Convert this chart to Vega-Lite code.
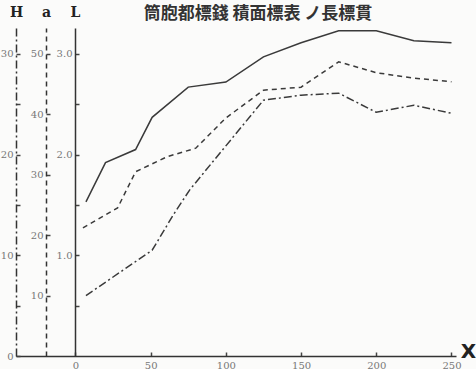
{
  "$schema": "https://vega.github.io/schema/vega-lite/v6.json",
  "width": 440,
  "height": 328,
  "autosize": "none",
  "padding": {"left": 16, "top": 28, "right": 20, "bottom": 13},
  "background": "#fbfbfa",
  "title": {
    "text": "筒胞都標錢 積面標表 ノ長標貫",
    "font": "Noto Sans CJK JP",
    "fontSize": 17,
    "fontWeight": "bold",
    "color": "#333",
    "anchor": "middle",
    "dx": 22,
    "offset": -18
  },
  "datasets": {
    "Ld": [
      {"X": 7, "L": 1.53}, {"X": 20, "L": 1.92}, {"X": 40, "L": 2.05}, {"X": 51, "L": 2.37},
      {"X": 75, "L": 2.67}, {"X": 100, "L": 2.72}, {"X": 125, "L": 2.97}, {"X": 150, "L": 3.11},
      {"X": 175, "L": 3.23}, {"X": 200, "L": 3.23}, {"X": 225, "L": 3.13}, {"X": 250, "L": 3.11}
    ],
    "ad": [
      {"X": 5, "a": 21.2}, {"X": 28, "a": 24.5}, {"X": 40, "a": 30.5}, {"X": 61, "a": 33.0},
      {"X": 80, "a": 34.4}, {"X": 100, "a": 39.4}, {"X": 125, "a": 44.0}, {"X": 150, "a": 44.5},
      {"X": 175, "a": 48.7}, {"X": 200, "a": 46.9}, {"X": 225, "a": 46.0}, {"X": 250, "a": 45.4}
    ],
    "Hd": [
      {"X": 7, "H": 6.0}, {"X": 51, "H": 10.5}, {"X": 65, "H": 14.0}, {"X": 76, "H": 16.5},
      {"X": 98, "H": 20.5}, {"X": 125, "H": 25.4}, {"X": 150, "H": 25.9}, {"X": 175, "H": 26.1},
      {"X": 200, "H": 24.2}, {"X": 225, "H": 24.9}, {"X": 250, "H": 24.1}
    ]
  },
  "config": {
    "view": {"stroke": null},
    "axis": {
      "grid": false,
      "labelFont": "DejaVu Serif",
      "labelFontSize": 10,
      "labelColor": "#777",
      "domainColor": "#333",
      "domainWidth": 1.5,
      "tickColor": "#444",
      "tickWidth": 1.5,
      "titleFont": "DejaVu Serif",
      "titleFontWeight": "bold",
      "titleFontSize": 14,
      "titleColor": "#222"
    }
  },
  "encoding": {
    "x": {
      "field": "X",
      "type": "quantitative",
      "scale": {"domain": [-39.5, 253], "nice": false, "zero": false}
    }
  },
  "layer": [
    {
      "data": {"name": "Ld"},
      "mark": {"type": "line", "color": "#3a3a3a", "strokeWidth": 1.5},
      "encoding": {
        "x": {
          "field": "X",
          "type": "quantitative",
          "axis": {
            "values": [0, 50, 100, 150, 200, 250],
            "tickSize": -4,
            "labelPadding": 8,
            "title": "X",
            "titleFont": "DejaVu Sans",
            "titleFontSize": 20,
            "titleX": 452,
            "titleY": -5,
            "titleAlign": "center",
            "titleBaseline": "middle"
          }
        },
        "y": {
          "field": "L",
          "type": "quantitative",
          "scale": {"domain": [0, 3.257], "nice": false},
          "axis": {
            "orient": "left",
            "offset": -59,
            "values": [0.5, 1, 1.5, 2, 2.5, 3],
            "labelExpr": "datum.value % 1 === 0 ? format(datum.value, '.1f') : ''",
            "tickSize": -4,
            "labelPadding": 7,
            "title": "L",
            "titleAngle": 0,
            "titleX": 0,
            "titleY": -16,
            "titleAlign": "center",
            "titleBaseline": "middle"
          }
        }
      }
    },
    {
      "data": {"name": "ad"},
      "mark": {"type": "line", "color": "#3a3a3a", "strokeWidth": 1.5, "strokeDash": [5, 4]},
      "encoding": {
        "y": {
          "field": "a",
          "type": "quantitative",
          "scale": {"domain": [0, 54.3], "nice": false},
          "axis": {
            "orient": "left",
            "offset": -30,
            "values": [10, 20, 30, 40, 50],
            "domainDash": [5, 4],
            "tickSize": -4,
            "labelPadding": 7,
            "title": "a",
            "titleAngle": 0,
            "titleX": 0,
            "titleY": -16,
            "titleAlign": "center",
            "titleBaseline": "middle"
          }
        }
      }
    },
    {
      "data": {"name": "Hd"},
      "mark": {"type": "line", "color": "#3a3a3a", "strokeWidth": 1.5, "strokeDash": [8, 3, 2, 3]},
      "encoding": {
        "y": {
          "field": "H",
          "type": "quantitative",
          "scale": {"domain": [0, 32.57], "nice": false},
          "axis": {
            "orient": "left",
            "offset": 0,
            "values": [0, 5, 10, 15, 20, 25, 30],
            "labelExpr": "datum.value % 10 === 0 ? datum.label : ''",
            "domainDash": [8, 3, 2, 3],
            "tickSize": -4,
            "labelPadding": 7,
            "title": "H",
            "titleAngle": 0,
            "titleX": 0,
            "titleY": -16,
            "titleAlign": "center",
            "titleBaseline": "middle"
          }
        }
      }
    }
  ],
  "resolve": {"scale": {"y": "independent"}}
}
